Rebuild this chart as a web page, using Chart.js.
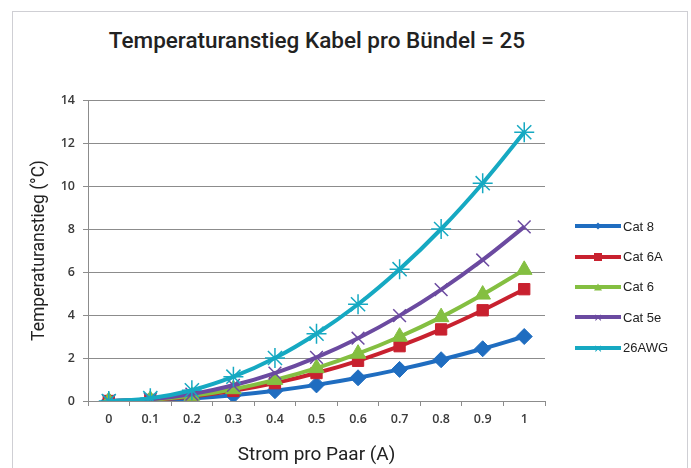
<!DOCTYPE html>
<html lang="de">
<head>
<meta charset="utf-8">
<script src="https://cdn.jsdelivr.net/npm/chart.js@4"></script>
<style>
  body { margin: 0; background: #fff; }
  #wrap { position: relative; width: 691px; height: 468px; overflow: hidden; }
  #frame { position: absolute; left: 12px; top: 11px; width: 674px; height: 480px; border: 1px solid #cfcfd4; }
  #title { position: absolute; left: 0; width: 634px; top: 27px; text-align: center;
           font: 500 22.5px Roboto, sans-serif; color: #222; }
  #legend { position: absolute; left: 575px; top: 211px; margin: 0; padding: 0; list-style: none;
            font: 13px "Liberation Sans", Arial, sans-serif; color: #222; }
  #legend li { display: flex; align-items: center; height: 30.4px; }
  .swatch { position: relative; width: 46px; height: 4px; margin-right: 2px; }
  .mk { position: absolute; left: 50%; top: 50%; transform: translate(-50%, -50%); }
  canvas { position: absolute; left: 0; top: 0; }
</style>
</head>
<body>
<div id="wrap">
  <div id="frame"></div>
  <div id="title">Temperaturanstieg Kabel pro Bündel = 25</div>
  <canvas id="temp_chart" width="691" height="468"></canvas>
  <ul id="legend"></ul>
</div>
<script>
// Strom pro Paar (A)
const categories = ['0', '0.1', '0.2', '0.3', '0.4', '0.5', '0.6', '0.7', '0.8', '0.9', '1'];
const yTicks = [0, 2, 4, 6, 8, 10, 12, 14];

const seriesNames = ['Cat 8', 'Cat 6A', 'Cat 6', 'Cat 5e', '26AWG'];
const cat8   = [0, 0.03, 0.12, 0.27, 0.48, 0.75, 1.08, 1.47, 1.92, 2.43, 3.0];
const cat6a  = [0, 0.05, 0.21, 0.47, 0.83, 1.3, 1.87, 2.55, 3.33, 4.22, 5.2];
const cat6   = [0, 0.06, 0.24, 0.55, 0.98, 1.53, 2.2, 2.99, 3.9, 4.95, 6.1];
const cat5e  = [0, 0.08, 0.32, 0.73, 1.3, 2.03, 2.92, 3.97, 5.18, 6.56, 8.1];
const awg26  = [0, 0.13, 0.5, 1.13, 2.0, 3.13, 4.5, 6.13, 8.0, 10.13, 12.5];

const colors = ['#1f6dc0', '#c8212f', '#84bf41', '#6b4aa0', '#16a9c2'];
const markers = ['rectRot', 'rect', 'triangle', 'crossRot', 'star'];
const markerSizes = [8, 8, 9, 9, 10];
const allData = [cat8, cat6a, cat6, cat5e, awg26];

const gridColor = '#8c8c8c';
const tickFont = { family: "'Open Sans', sans-serif", size: 12.5, weight: '600' };

document.addEventListener('DOMContentLoaded', function() {
  const ctx = document.getElementById('temp_chart').getContext('2d');

  const datasets = seriesNames.map((name, i) => {
    const thin = markers[i] === 'crossRot' || markers[i] === 'star';
    return {
      label: name,
      data: allData[i],
      borderColor: colors[i],
      backgroundColor: colors[i],
      borderWidth: 4,
      tension: 0.4,
      pointStyle: markers[i],
      pointRadius: markerSizes[i],
      pointBorderWidth: thin ? 1.5 : 1,
      pointBackgroundColor: colors[i],
      pointBorderColor: colors[i],
      order: seriesNames.length - i  // letzte Serie oben
    };
  });

  new Chart(ctx, {
    type: 'line',
    data: { labels: categories, datasets: datasets },
    options: {
      responsive: false,
      animation: false,
      layout: { padding: { top: 100, right: 146, bottom: 0, left: 0 } },
      plugins: {
        legend: { display: false },
        title: { display: false },
        tooltip: { enabled: false }
      },
      scales: {
        x: {
          offset: true,
          grid: { offset: true, drawOnChartArea: false, drawTicks: true, tickLength: 5, color: gridColor },
          border: { color: gridColor },
          ticks: { font: tickFont, color: '#3a3a3a', padding: 6, maxRotation: 0 },
          title: { display: true, text: 'Strom pro Paar (A)', font: { family: 'Roboto, sans-serif', size: 19 },
                   color: '#222', padding: { top: 0, bottom: 1.5 } },
          afterFit: function(scale) { scale.height = 67; }
        },
        y: {
          min: 0,
          max: 14,
          afterBuildTicks: function(scale) { scale.ticks = yTicks.map(v => ({ value: v })); },
          grid: { color: gridColor, tickLength: 5 },
          border: { color: gridColor },
          ticks: { font: tickFont, color: '#3a3a3a', padding: 8 },
          title: { display: true, text: 'Temperaturanstieg (°C)', font: { family: 'Roboto, sans-serif', size: 17.5 },
                   color: '#222', padding: { top: 29.5, bottom: 0 } },
          afterFit: function(scale) { scale.width = 88; }
        }
      }
    }
  });

  // Legende rechts, Linie mit kleinem Marker
  const legend = document.getElementById('legend');
  legend.innerHTML = seriesNames.map((name, i) => {
    const c = colors[i];
    let mk = '';
    if (markers[i] === 'rectRot') {
      mk = `<span class="mk" style="width:5px;height:5px;background:${c};transform:translate(-50%,-50%) rotate(45deg);"></span>`;
    } else if (markers[i] === 'rect') {
      mk = `<span class="mk" style="width:8px;height:8px;background:${c};"></span>`;
    } else if (markers[i] === 'triangle') {
      mk = `<span class="mk" style="width:0;height:0;border-left:4px solid transparent;border-right:4px solid transparent;border-bottom:7px solid ${c};"></span>`;
    } else {
      mk = `<span class="mk" style="color:${c};font:11px 'DejaVu Sans',sans-serif;line-height:1;">×</span>`;
    }
    return `<li><span class="swatch" style="background:${c};">${mk}</span><span>${name}</span></li>`;
  }).join('');
});
</script>
</body>
</html>
